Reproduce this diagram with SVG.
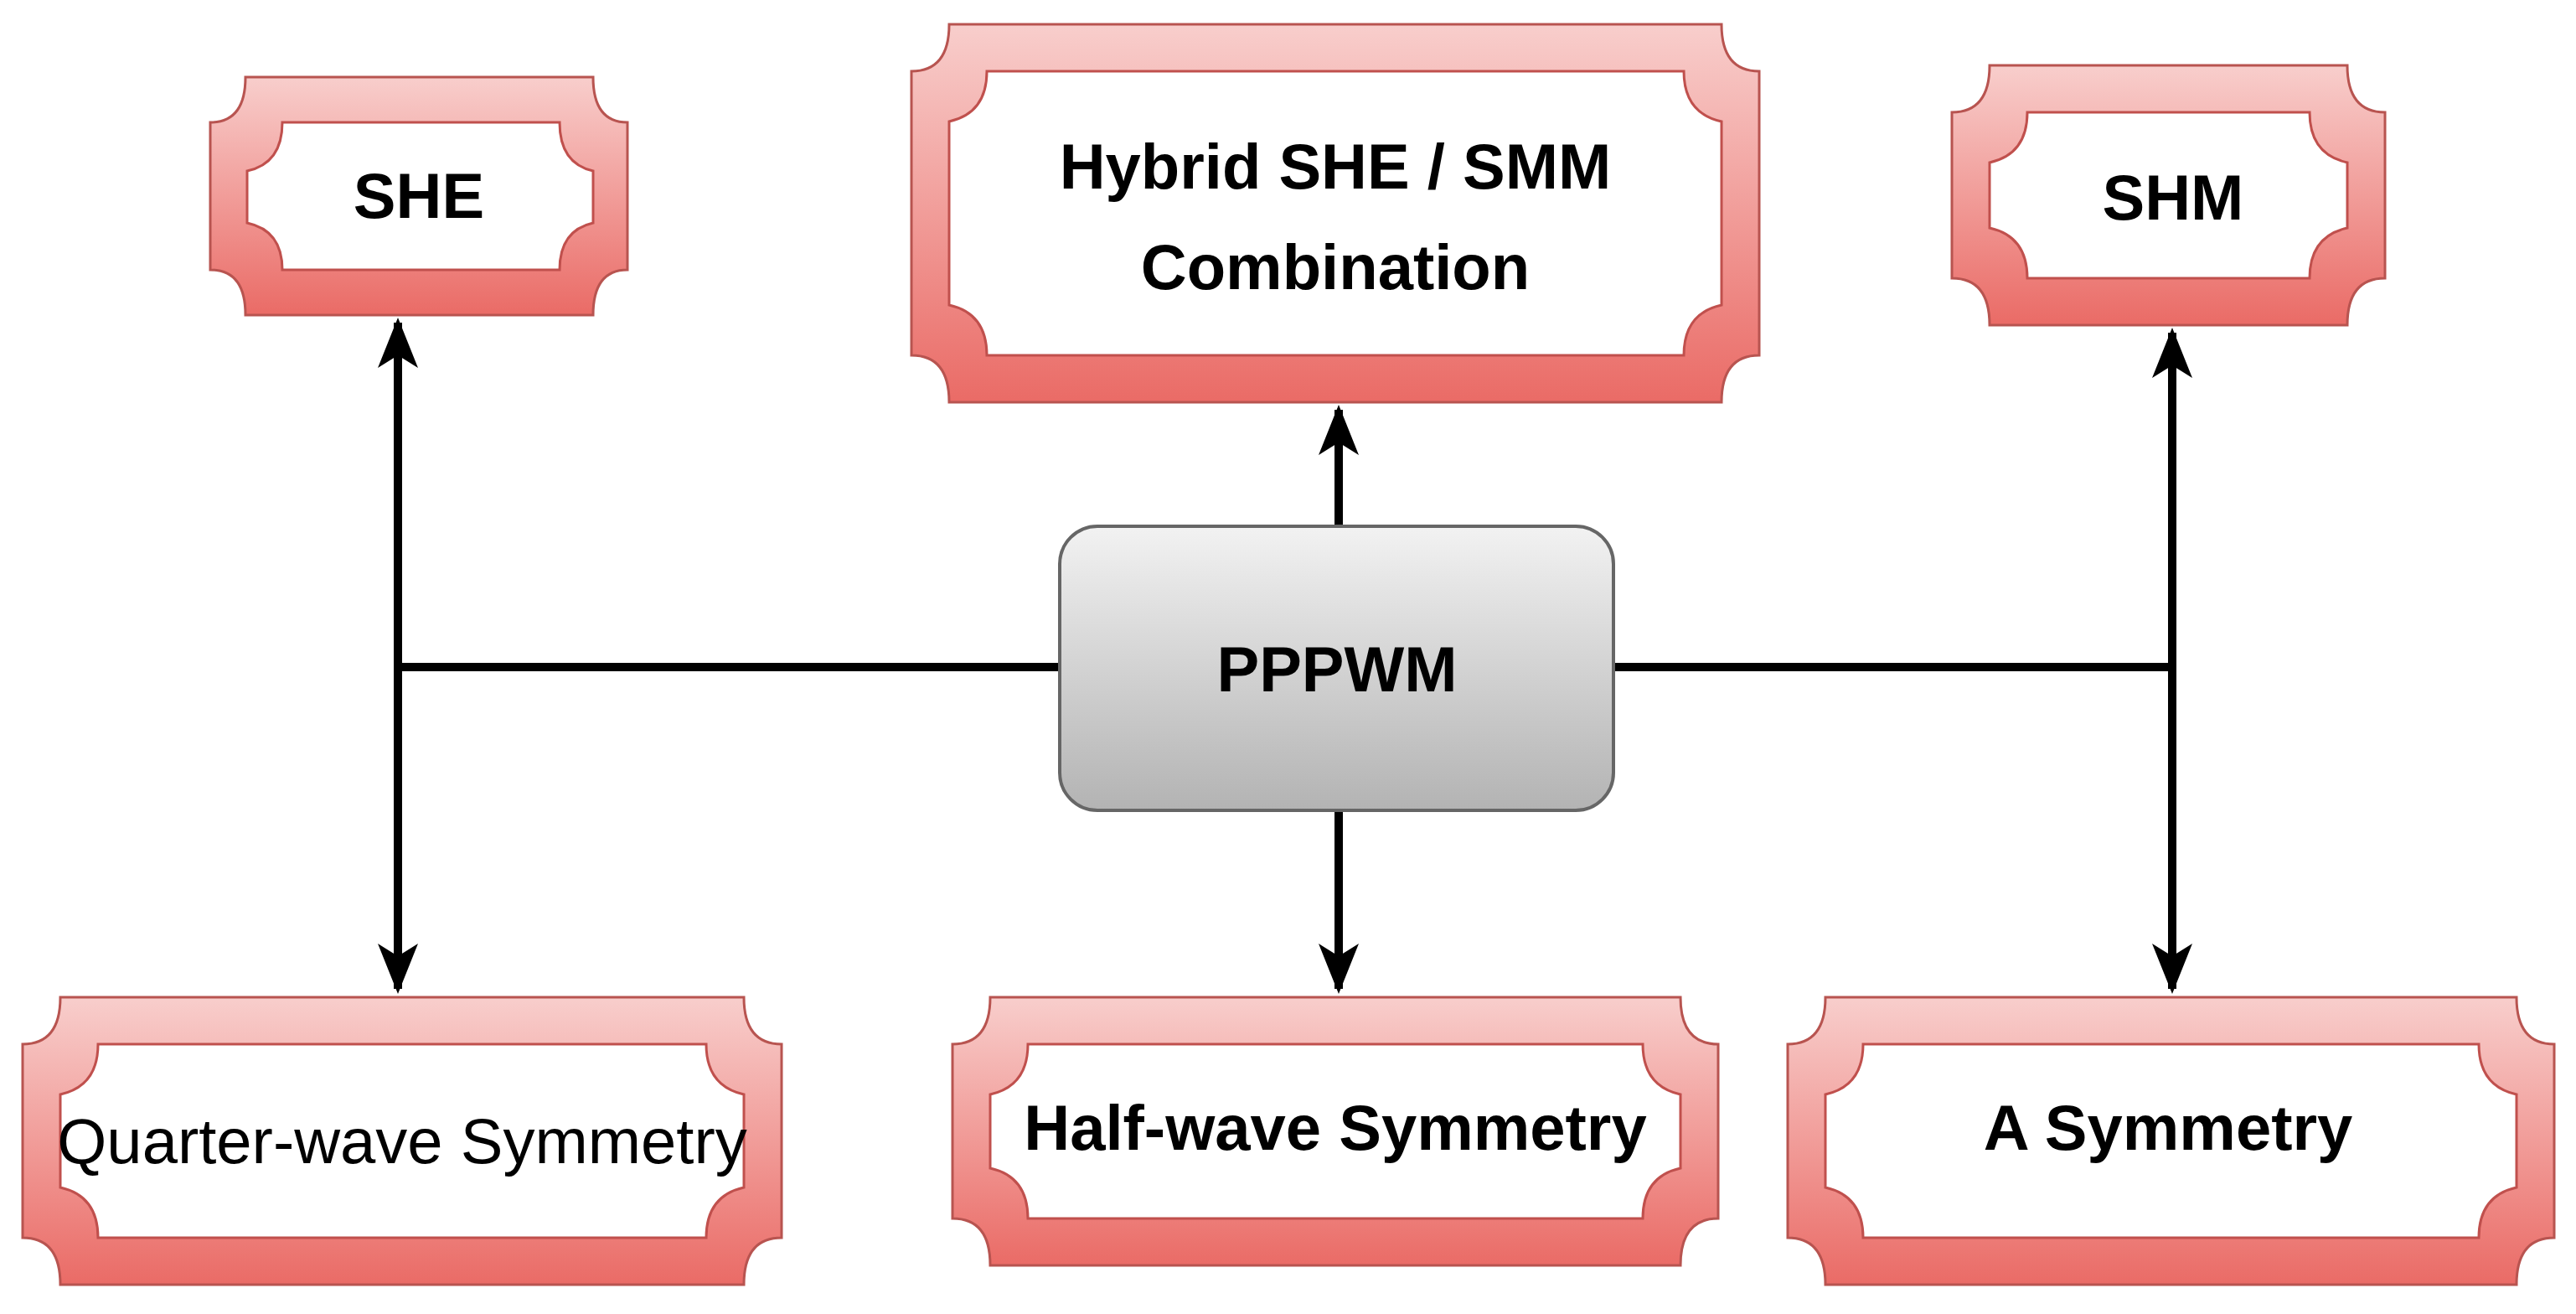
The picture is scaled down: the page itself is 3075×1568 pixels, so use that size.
<svg xmlns="http://www.w3.org/2000/svg" width="3075" height="1568" viewBox="0 0 3075 1568">
<defs>
<linearGradient id="rg" x1="0" y1="0" x2="0" y2="1"><stop offset="0" stop-color="#f8cecc"/><stop offset="1" stop-color="#ea6b66"/></linearGradient>
<linearGradient id="gg" x1="0" y1="0" x2="0" y2="1"><stop offset="0" stop-color="#f2f2f2"/><stop offset="1" stop-color="#b3b3b3"/></linearGradient>
<marker id="ah" viewBox="0 0 20 20" refX="18" refY="10" markerWidth="6" markerHeight="6" markerUnits="strokeWidth" orient="auto-start-reverse"><path d="M0,2 L20,10 L0,18 L5,10 Z" fill="#000"/></marker>
</defs>
<style>
.o{fill:url(#rg);stroke:#b85450;stroke-width:3}
.i{fill:#fff;stroke:#c0504d;stroke-width:3}
.t{font-family:"Liberation Sans",Arial,sans-serif;font-weight:bold;font-size:76px;text-anchor:middle;fill:#000}
.n{font-weight:normal}
.c{fill:none;stroke:#000;stroke-width:10}
</style>
<g id="connectors">
<path class="c" d="M1265,796 H475"/>
<path class="c" d="M475,385 V1180" marker-start="url(#ah)" marker-end="url(#ah)"/>
<path class="c" d="M1926,796 H2593"/>
<path class="c" d="M2593,397 V1180" marker-start="url(#ah)" marker-end="url(#ah)"/>
<path class="c" d="M1598,628 V489" marker-end="url(#ah)"/>
<path class="c" d="M1598,967 V1180" marker-end="url(#ah)"/>
</g>
<g id="she">
<path class="o" d="M293,92 H708 Q708,146 749,146 V322 Q708,322 708,376 H293 Q293,322 251,322 V146 Q293,146 293,92 Z"/>
<path class="i" d="M337,146 H668 Q668,195 708,204 V266 Q668,275 668,322 H337 Q337,275 295,266 V204 Q337,195 337,146 Z"/>
<text class="t" x="500" y="260">SHE</text>
</g>
<g id="hybrid">
<path class="o" d="M1133,29 H2055 Q2055,85 2100,85 V424 Q2055,424 2055,480 H1133 Q1133,424 1088,424 V85 Q1133,85 1133,29 Z"/>
<path class="i" d="M1178,85 H2010 Q2010,135 2055,145 V364 Q2010,374 2010,424 H1178 Q1178,374 1133,364 V145 Q1178,135 1178,85 Z"/>
<text class="t" x="1594" y="225">Hybrid SHE / SMM</text>
<text class="t" x="1594" y="345">Combination</text>
</g>
<g id="shm">
<path class="o" d="M2375,78 H2802 Q2802,134 2847,134 V332 Q2802,332 2802,388 H2375 Q2375,332 2330,332 V134 Q2375,134 2375,78 Z"/>
<path class="i" d="M2420,134 H2757 Q2757,184 2802,194 V272 Q2757,282 2757,332 H2420 Q2420,282 2375,272 V194 Q2420,184 2420,134 Z"/>
<text class="t" x="2594" y="262">SHM</text>
</g>
<g id="pppwm">
<rect x="1265" y="628" width="661" height="339" rx="45" fill="url(#gg)" stroke="#666" stroke-width="4"/>
<text class="t" x="1596" y="825">PPPWM</text>
</g>
<g id="quarter">
<path class="o" d="M72,1190 H888 Q888,1246 933,1246 V1477 Q888,1477 888,1533 H72 Q72,1477 27,1477 V1246 Q72,1246 72,1190 Z"/>
<path class="i" d="M117,1246 H843 Q843,1296 888,1306 V1417 Q843,1427 843,1477 H117 Q117,1427 72,1417 V1306 Q117,1296 117,1246 Z"/>
<text class="t n" x="480" y="1388" font-size="72">Quarter-wave Symmetry</text>
</g>
<g id="half">
<path class="o" d="M1182,1190 H2006 Q2006,1246 2051,1246 V1454 Q2006,1454 2006,1510 H1182 Q1182,1454 1137,1454 V1246 Q1182,1246 1182,1190 Z"/>
<path class="i" d="M1227,1246 H1961 Q1961,1296 2006,1306 V1394 Q1961,1404 1961,1454 H1227 Q1227,1404 1182,1394 V1306 Q1227,1296 1227,1246 Z"/>
<text class="t" x="1594" y="1372" font-size="74">Half-wave Symmetry</text>
</g>
<g id="asym">
<path class="o" d="M2179,1190 H3004 Q3004,1246 3049,1246 V1477 Q3004,1477 3004,1533 H2179 Q2179,1477 2134,1477 V1246 Q2179,1246 2179,1190 Z"/>
<path class="i" d="M2224,1246 H2959 Q2959,1296 3004,1306 V1417 Q2959,1427 2959,1477 H2224 Q2224,1427 2179,1417 V1306 Q2224,1296 2224,1246 Z"/>
<text class="t" x="2588" y="1372" font-size="74">A Symmetry</text>
</g>
</svg>
